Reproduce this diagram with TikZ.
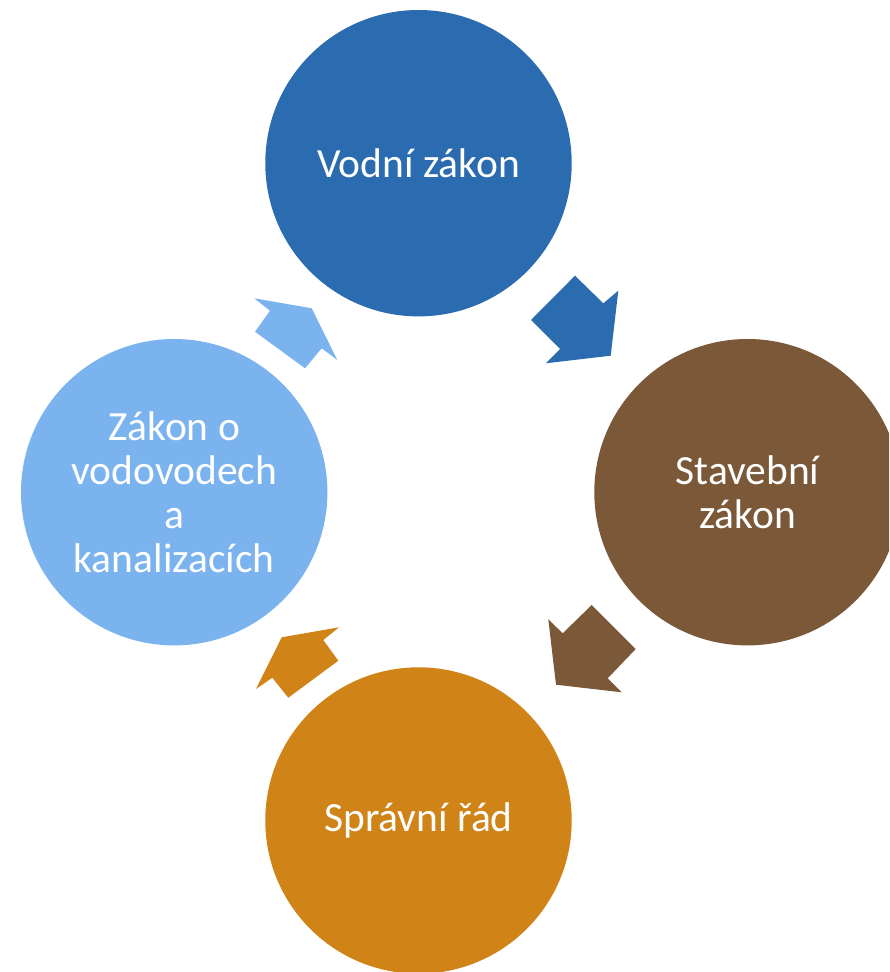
\documentclass[tikz,border=0pt]{standalone}
\usepackage{fontspec}
\setmainfont{Carlito}
\definecolor{cblue}{RGB}{43,108,176}
\definecolor{cbrown}{RGB}{122,88,56}
\definecolor{corange}{RGB}{208,131,22}
\definecolor{clight}{RGB}{123,179,238}
\begin{document}
\begin{tikzpicture}[x=1pt,y=-1pt,
  circ/.style={circle, minimum size=306.4pt, inner sep=0pt, text=white, align=center,
    font=\fontsize{41.5}{44}\selectfont}]
\useasboundingbox (0,0) rectangle (889,972);
\clip (0,0) rectangle (889,972);
\node[circ, fill=cblue] (vodni) at (418.5,163.2) {Vodní zákon};
\node[circ, fill=cbrown] (stav) at (747.5,492.2) {Stavební\\zákon};
\node[circ, fill=corange] (sprav) at (418.5,820.5) {Správní řád};
\node[circ, fill=clight] (kanal) at (174.2,492.2) {Zákon o\\vodovodech\\a\\kanalizacích};
% block arrows
\fill[cblue] (575,275.7) -- (603.3,303.3) -- (618.3,290.7) -- (610.7,355.7) -- (545.7,363.3) -- (560,349) -- (531,320) -- cycle;
\fill[cbrown] (591.7,605) -- (635.7,649) -- (607.7,678.3) -- (621.7,692.3) -- (556,684.7) -- (548.3,619.3) -- (562.7,633.3) -- cycle;
\fill[corange] (339,627.3) -- (323.3,640) -- (338.3,660.7) -- (288.3,697.7) -- (272.3,677.7) -- (256,689) -- (281.7,637.3) -- cycle;
\fill[clight] (254.3,298.3) -- (311.7,308.3) -- (337.3,360) -- (321.7,348.3) -- (305,368.3) -- (255,331.7) -- (270,310.7) -- cycle;
\end{tikzpicture}
\end{document}
